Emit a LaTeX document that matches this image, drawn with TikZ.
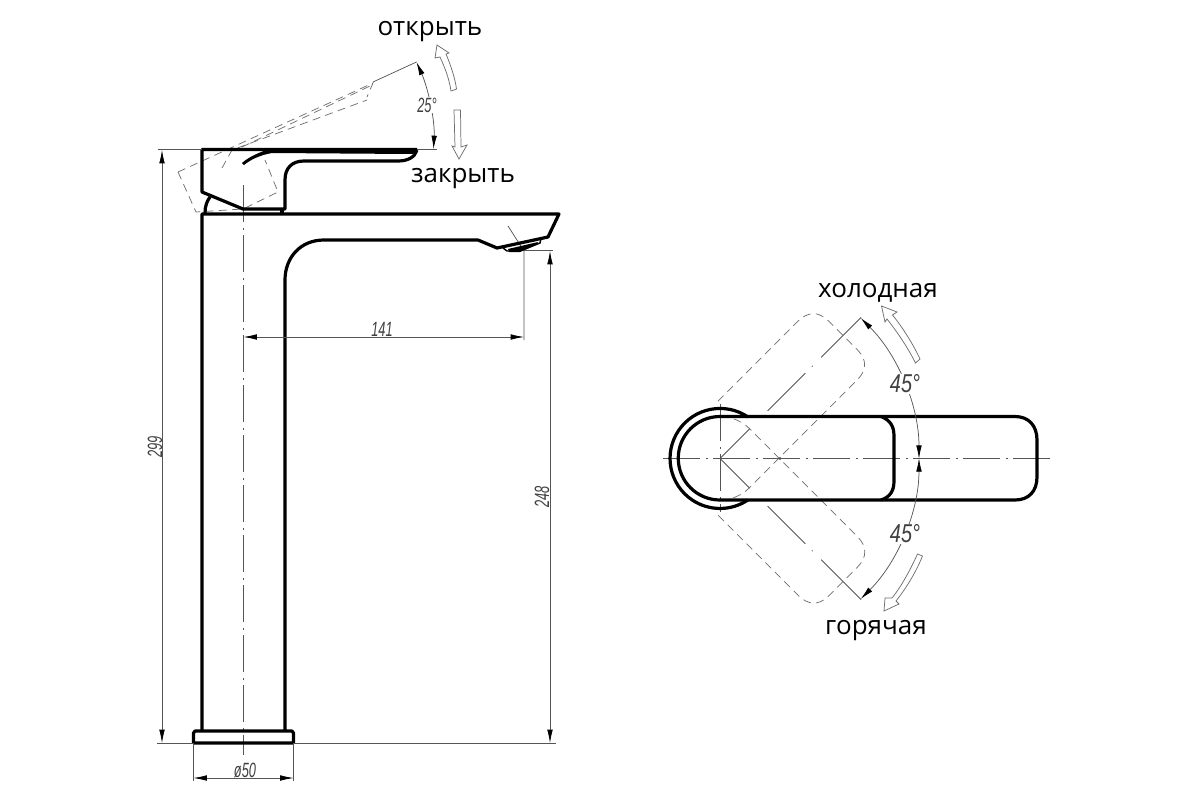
\documentclass[tikz,border=0pt]{standalone}
\usepackage{fontspec}
\usepackage{tikz}
\usetikzlibrary{arrows.meta}
\setmainfont{Open Sans}
\newfontfamily\dimfont{Liberation Sans}
\definecolor{thingray}{RGB}{85,85,85}
\definecolor{ghostgray}{RGB}{110,110,110}

\begin{document}
\begin{tikzpicture}[x=0.75pt,y=0.75pt,yscale=-1,xscale=1,
  outline/.style={line width=2.4pt,line join=round},
  thinline/.style={line width=0.55pt,color=thingray},
  dimline/.style={line width=0.55pt,color=thingray,{Latex[length=10pt,width=4.2pt,black]}-{Latex[length=10pt,width=4.2pt,black]}},
  centerline/.style={line width=0.55pt,color=thingray,dash pattern=on 28pt off 4pt on 1.5pt off 4pt},
  ghost/.style={line width=0.55pt,color=ghostgray,dash pattern=on 6pt off 4pt},
  hollow/.style={line width=0.55pt,color=ghostgray,fill=white},
  caption/.style={inner sep=0.75pt,font=\fontsize{19.5}{22}\selectfont},
  dimtext/.style={inner sep=0.75pt,xscale=0.62,color=black!75,font=\dimfont\itshape\fontsize{15.5}{18}\selectfont},
  angletext/.style={dimtext,fill=white,xscale=1.55,yscale=1.25}]
\path[use as bounding box] (0,0) rectangle (1200,800);

%Rotated handle, dashed
\draw[ghost] (178,172) -- (373,83) -- (367,97) ;
\draw[ghost] (178,172) -- (196,212) -- (243,209) -- (278,192) -- (265,160) ;
\draw[ghost] (222,168) -- (232,150) -- (367,100) ;
\draw[ghost] (242,147) -- (370,86) ;

%Center lines
\draw[centerline] (243.5,185) -- (243.5,755) ;
\draw[thinline] (373,82) -- (416.5,62) ;
\draw[thinline] (417,149) -- (437,149) ;
\draw[thinline] (508,226) -- (524,251) -- (524,340) ;

%Handle
\draw[outline] (417,149.5) -- (202,149.5) -- (202,192) -- (243,209) -- (285,209) -- (285,180) .. controls (285,168) and (292,161) .. (304,161) -- (398,161) .. controls (408,161) and (415,157) .. (417,150) ;
\fill (270,149) -- (417,149) -- (417,152) .. controls (416,153) and (414,154) .. (410,154) -- (272,153) .. controls (260,155) and (250,160) .. (244,165) -- (242,163) .. controls (250,156) and (260,152) .. (270,149) -- cycle ;
%Handle base
\draw[outline] (205,213) .. controls (205,206) and (207,201) .. (210,197) ;
\draw[outline] (282,209) -- (282,214) ;

%Body
\draw[outline] (202,731) -- (202,214) -- (559,214) -- (548,237) -- (497,248) -- (478,240) -- (324,240) .. controls (300,240) and (285,258) .. (285,280) -- (285,731) ;
\draw[outline] (195,731) -- (292,731) -- (293.5,733) -- (293.5,743) -- (193.5,743) -- (193.5,733) -- cycle ;
%Aerator
\draw[line width=1.1pt] (503,248) -- (507,251) -- (520,251) -- (540,243) -- (541,238) ;
\fill (508,249) -- (538,242) -- (536,245) -- (520,252) -- (509,252) -- cycle ;

%Dimensions
\draw[thinline] (158,149) -- (202,149) ;
\draw[thinline] (157,743) -- (193,743) ;
\draw[thinline] (294,743) -- (556,743) ;
\draw[thinline] (524,250) -- (553,250) ;
\draw[thinline] (193.5,743) -- (193.5,781) ;
\draw[thinline] (293.5,743) -- (293.5,781) ;
\draw[dimline] (162,150) -- (162,743) ;
\draw[dimline] (550,251) -- (550,743) ;
\draw[dimline] (243.5,337) -- (524,337) ;
\draw[dimline] (193.5,778) -- (293.5,778) ;
\draw[dimline] (416.5,62) .. controls (428,88) and (435,120) .. (433.5,149) ;

%Hollow arrows
\draw[hollow] (451,91) .. controls (449,78) and (445,68) .. (440,57) -- (435,58) -- (437,45) -- (449,53) -- (446,54) .. controls (451,66) and (455,78) .. (456.5,89) -- cycle ;
\draw[hollow] (454,110) -- (455,147) -- (452,146) -- (459,159) -- (467,145) -- (461,147) -- (460.5,110) -- cycle ;
\draw[hollow] (915.5,363) .. controls (908,348) and (898,333) .. (887,319) -- (885,322) -- (881.5,306) -- (897,312) -- (892.5,315) .. controls (903,328) and (913,344) .. (920,359) -- cycle ;
\draw[hollow] (917.5,554) .. controls (910,570) and (903,584) .. (892,598) -- (885,598) -- (884,611) -- (899,604) -- (896,601) .. controls (907,587) and (916,572) .. (922.5,556) -- cycle ;

%Top view: rotated levers, dashed
\draw[ghost,rotate around={-45:(720,458.5)}] (759,416.5) -- (872,416.5) .. controls (886,416.5) and (894,424) .. (894,438) -- (894,479) .. controls (894,493) and (886,500) .. (872,500) -- (720,500) arc (90:119:41.5) ;
\draw[ghost,rotate around={45:(720,458.5)}] (759,500) -- (872,500) .. controls (886,500) and (894,493) .. (894,479) -- (894,438) .. controls (894,424) and (886,416.5) .. (872,416.5) -- (720,416.5) arc (-90:-119:41.5) ;
%Top view: rotated axes
\draw[thinline,dash pattern=on 31.5pt off 19pt on 40pt off 7pt on 0.8pt off 9pt on 45pt] (720,458.5) -- (861,317.5) ;
\draw[thinline,dash pattern=on 31.5pt off 19pt on 40pt off 7pt on 0.8pt off 9pt on 45pt] (720,458.5) -- (861,599.5) ;

%Top view: lever
\draw[centerline] (663,458.5) -- (1052,458.5) ;
\draw[centerline] (720.5,404) -- (720.5,512) ;
\draw[outline] (720,416.5) -- (1015,416.5) .. controls (1029,416.5) and (1037,426) .. (1037,440) -- (1037,477) .. controls (1037,491) and (1029,500) .. (1015,500) -- (720,500) arc (90:270:41.75) -- cycle ;
\draw[outline] (881,416.5) .. controls (890,420) and (894,426) .. (894,436) -- (894,481) .. controls (894,491) and (890,497) .. (881,500) ;
\draw[outline] (748,417) arc (-56:-304:50) ;
\draw[thinline] (780,458.5) circle (1.2) ;
%Angle dimensions
\draw[dimline] (860.7,318) arc (-45:0:199) ;
\draw[dimline] (860.7,599) arc (45:0:199) ;

% Text Node
\draw (430,32) node (lblopen) [caption] {открыть};
% Text Node
\draw (463,179) node (lblclose) [caption] {закрыть};
% Text Node
\draw (878,293) node (lblcold) [caption] {холодная};
% Text Node
\draw (876,631) node (lblhot) [caption] {горячая};
% Text Node
\draw (427,105) node (dimtilt) [dimtext,fill=white] {25°};
% Text Node
\draw (905,384) node (dimcold) [angletext] {45°};
% Text Node
\draw (905,534) node (dimhot) [angletext] {45°};
% Text Node
\draw (382,329) node (dimreach) [dimtext] {141};
% Text Node
\draw (155,447) node (dimfull) [rotate=90,dimtext] {299};
% Text Node
\draw (542,497) node (dimspout) [rotate=90,dimtext] {248};
% Text Node
\draw (245,770) node (dimbase) [dimtext] {ø50};
\end{tikzpicture}
\end{document}
